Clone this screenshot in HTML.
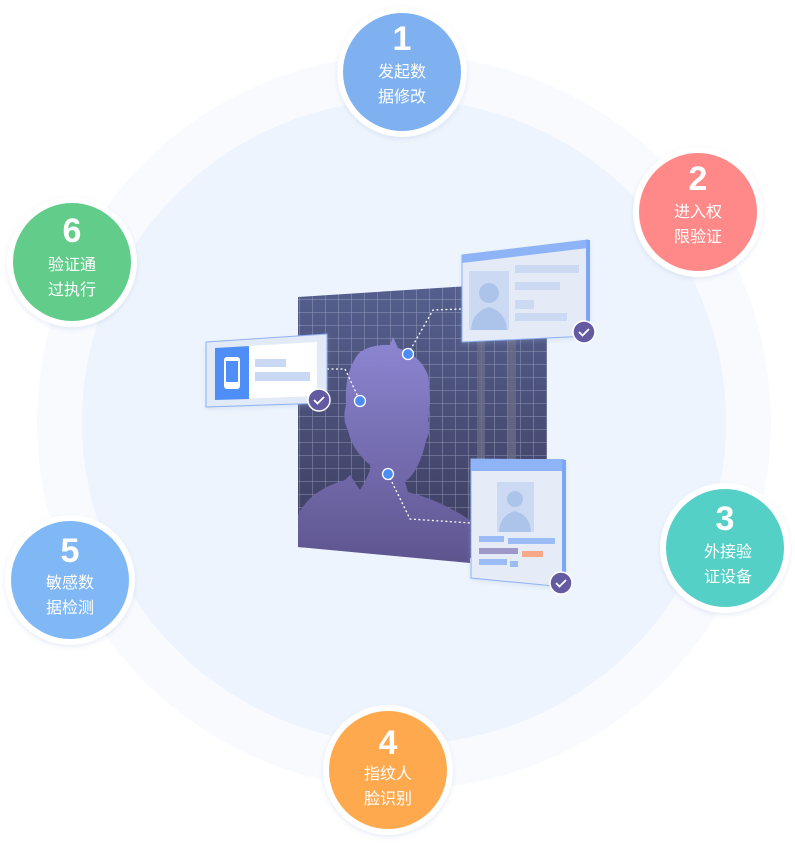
<!DOCTYPE html>
<html><head><meta charset="utf-8"><style>
html,body{margin:0;padding:0;background:#fff;width:795px;height:844px;overflow:hidden}
svg{display:block}
text{font-family:"Liberation Sans","Noto Sans CJK SC",sans-serif;fill:#fff;text-anchor:middle}
.n{font-size:34px;font-weight:bold}
.t{font-size:16px}
</style></head><body>
<svg width="795" height="844" viewBox="0 0 795 844">
<defs>
<linearGradient id="sil" x1="0" y1="0" x2="0" y2="1"><stop offset="0" stop-color="#8d86d2"/><stop offset="1" stop-color="#5e558f"/></linearGradient>
<linearGradient id="brd" x1="0" y1="0" x2="0" y2="1"><stop offset="0" stop-color="#55608e"/><stop offset="1" stop-color="#3d3c5e"/></linearGradient>
<pattern id="grid" width="13" height="13" patternUnits="userSpaceOnUse"><path d="M0 0H13M0 0V13" stroke="#c9cde6" stroke-opacity=".55" stroke-width="1" fill="none"/></pattern>
<filter id="sh" x="-20%" y="-20%" width="140%" height="140%"><feDropShadow dx="0" dy="2" stdDeviation="2.5" flood-color="#9fb3d8" flood-opacity=".25"/></filter>
</defs>
<circle cx="404" cy="422" r="367" fill="#f8fafe"/>
<circle cx="404" cy="422" r="322" fill="#edf4fd"/>

<polygon points="298,297 547,281 547,563 298,547" fill="url(#brd)"/>
<polygon points="298,297 547,281 547,563 298,547" fill="url(#grid)"/>
<rect x="477" y="340" width="8" height="220" fill="#6d6f88" opacity=".7"/>
<rect x="508" y="340" width="8" height="220" fill="#6d6f88" opacity=".7"/>
<path d="M390 345 L393 337 L398 348 Q420 355 428 375 Q432 400 428 420 Q432 430 426 440 Q420 470 405 482 L408 492 Q440 500 470 520 L470 563 L298 547 L298 515 Q310 490 345 480 L350 475 L360 490 Q372 470 370 465 Q352 450 348 430 Q342 420 346 405 Q344 370 360 352 Q372 344 390 345 Z" fill="url(#sil)"/>
<g stroke="#fff" stroke-width="1.3" stroke-dasharray="2,2.5" fill="none">
<path d="M408 354 L433 310 L462 309"/>
<path d="M327 369 L345 369 L360 401"/>
<path d="M388 474 L410 519 L471 523"/>
</g>
<g fill="#4c8cf5" stroke="#fff" stroke-width="1.3">
<circle cx="408" cy="354" r="5.5"/><circle cx="360" cy="401" r="5.5"/><circle cx="388" cy="474" r="5.5"/>
</g>
<g filter="url(#sh)">
<polygon points="206,342 327,334 327,403 206,407" fill="#e2e9f7" stroke="#8fb1f5"/>
<polygon points="215,348 317,342 317,396 215,400" fill="#fff"/>
<polygon points="215,348 249,346 249,399 215,400" fill="#4f8ef7"/>
<rect x="224" y="357" width="16" height="32" rx="3" fill="#fff"/>
<rect x="226" y="361" width="12" height="21" fill="#4f8ef7"/>
<rect x="255" y="359" width="31" height="8" fill="#c9d8f3"/>
<rect x="255" y="372" width="55" height="9" fill="#c9d8f3"/>
</g>
<circle cx="319" cy="400" r="11" fill="#645aa2" stroke="#fff" stroke-width="1.5"/>
<path d="M314 400 l3.5 3.5 l6.5 -6.5" stroke="#fff" stroke-width="1.8" fill="none"/>
<g filter="url(#sh)">
<polygon points="462,255 588,240 588,336 462,342" fill="#e4ebf6" stroke="#8fb1f5"/>
<polygon points="462,255 588,240 588,248 462,263" fill="#8eb4f7"/>
<rect x="586" y="240" width="4" height="96" fill="#7aa6f5"/>
<rect x="469" y="271" width="40" height="59" fill="#cbdaf2"/>
<circle cx="489" cy="293" r="10" fill="#adc4ea"/>
<path d="M471 330 Q472 312 489 307 Q506 312 507 330Z" fill="#adc4ea"/>
<rect x="515" y="265" width="64" height="8" fill="#cbdaf2"/>
<rect x="515" y="282" width="45" height="8" fill="#cbdaf2"/>
<rect x="515" y="300" width="19" height="9" fill="#cbdaf2"/>
<rect x="515" y="313" width="52" height="8" fill="#cbdaf2"/>
</g>
<circle cx="584" cy="332" r="11" fill="#645aa2" stroke="#fff" stroke-width="1.5"/>
<path d="M579 332 l3.5 3.5 l6.5 -6.5" stroke="#fff" stroke-width="1.8" fill="none"/>
<g filter="url(#sh)">
<polygon points="471,459 564,460 564,587 471,578" fill="#e6ecf7" stroke="#8fb1f5"/>
<rect x="471" y="459" width="93" height="12" fill="#8eb4f7"/>
<rect x="562" y="460" width="4" height="126" fill="#7aa6f5"/>
<rect x="497" y="482" width="37" height="50" fill="#cbdaf2"/>
<circle cx="515" cy="499" r="8" fill="#adc4ea"/>
<path d="M499 532 Q500 515 515 511 Q530 515 531 532Z" fill="#adc4ea"/>
<rect x="479" y="536" width="25" height="6" fill="#9bbcf5"/>
<rect x="508" y="538" width="47" height="6" fill="#9bbcf5"/>
<rect x="479" y="548" width="39" height="6" fill="#9e98c8"/>
<rect x="522" y="551" width="21" height="6" fill="#f7a98a"/>
<rect x="479" y="559" width="28" height="6" fill="#9bbcf5"/>
<rect x="510" y="561" width="8" height="6" fill="#9bbcf5"/>
</g>
<circle cx="561" cy="583" r="11" fill="#645aa2" stroke="#fff" stroke-width="1.5"/>
<path d="M556 583 l3.5 3.5 l6.5 -6.5" stroke="#fff" stroke-width="1.8" fill="none"/>

<g filter="url(#sh)">
<circle cx="402" cy="72" r="65" fill="#fff"/><circle cx="402" cy="72" r="59" fill="#7fb1f1"/>
<circle cx="698" cy="212" r="65" fill="#fff"/><circle cx="698" cy="212" r="59" fill="#ff8989"/>
<circle cx="725" cy="548" r="65" fill="#fff"/><circle cx="725" cy="548" r="59" fill="#55d0c6"/>
<circle cx="388" cy="770" r="65" fill="#fff"/><circle cx="388" cy="770" r="59" fill="#ffa94f"/>
<circle cx="70" cy="580" r="65" fill="#fff"/><circle cx="70" cy="580" r="59" fill="#80b8f6"/>
<circle cx="72" cy="262" r="65" fill="#fff"/><circle cx="72" cy="262" r="59" fill="#62cc8b"/>
</g>
<text class="n" x="402" y="50">1</text><text class="t" x="402" y="77">发起数</text><text class="t" x="402" y="102">据修改</text>
<text class="n" x="698" y="190">2</text><text class="t" x="698" y="217">进入权</text><text class="t" x="698" y="242">限验证</text>
<text class="n" x="725" y="530">3</text><text class="t" x="728" y="557">外接验</text><text class="t" x="728" y="582">证设备</text>
<text class="n" x="388" y="754">4</text><text class="t" x="388" y="779">指纹人</text><text class="t" x="388" y="804">脸识别</text>
<text class="n" x="70" y="562">5</text><text class="t" x="70" y="588">敏感数</text><text class="t" x="70" y="613">据检测</text>
<text class="n" x="72" y="242">6</text><text class="t" x="72" y="270">验证通</text><text class="t" x="72" y="295">过执行</text>
</svg>
</body></html>
